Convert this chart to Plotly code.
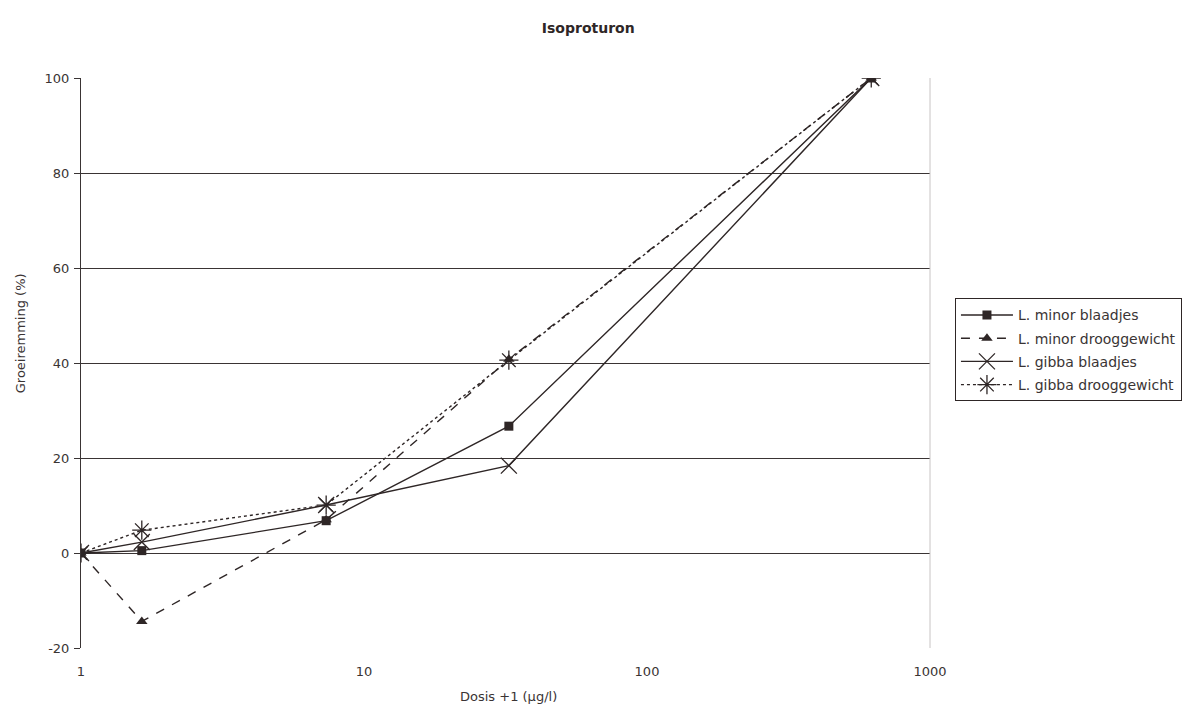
import plotly.graph_objects as go

# Dose + 1 (µg/l) on a log scale
dose_plus_1 = [1, 1.64, 7.35, 32.5, 620]

minor_blaadjes = [0, 0.5, 6.8, 26.7, 100]
minor_drooggewicht = [0, -14.4, 7.0, 40.8, 100]
gibba_blaadjes = [0, 2.3, 10.1, 18.4, 100]
gibba_drooggewicht = [0, 4.8, 10.1, 40.6, 100]

series_names = [
    "L. minor blaadjes",
    "L. minor drooggewicht",
    "L. gibba blaadjes",
    "L. gibba drooggewicht",
]

x_tick_vals = [1, 10, 100, 1000]
x_tick_text = ["1", "10", "100", "1000"]
y_tick_vals = [-20, 0, 20, 40, 60, 80, 100]
y_tick_text = ["-20", "0", "20", "40", "60", "80", "100"]

ink = "#2e2626"
text_color = "#3a3434"
font_family = "DejaVu Sans, Verdana, sans-serif"

fig = go.Figure()

styles = [
    (minor_blaadjes, "solid", dict(symbol="square", size=9, color=ink)),
    (minor_drooggewicht, "dash", dict(symbol="triangle-up", size=10, color=ink)),
    (gibba_blaadjes, "solid",
     dict(symbol="x-thin-open", size=16, color=ink, line=dict(color=ink, width=1.3))),
    (gibba_drooggewicht, "dot",
     dict(symbol="asterisk-open", size=16, color=ink, line=dict(color=ink, width=1.3))),
]

for i, (name, (values, dash, marker)) in enumerate(zip(series_names, styles)):
    fig.add_trace(go.Scatter(
        x=dose_plus_1,
        y=values,
        name=name,
        legendgroup=f"g{i}",
        mode="lines+markers",
        line=dict(color=ink, width=1.4, dash=dash),
        marker=marker,
    ))

# faint right-hand frame of the plot area
fig.add_shape(type="line", xref="paper", yref="paper", x0=1, x1=1, y0=0, y1=1,
              line=dict(color="#c8c4c4", width=1))

# axis titles
fig.add_annotation(
    text="Groeiremming (%)", textangle=-90,
    xref="paper", yref="paper", x=-0.0713, y=0.553,
    xanchor="center", yanchor="middle", showarrow=False,
    font=dict(size=13, color=text_color),
)
fig.add_annotation(
    text="Dosis +1 (µg/l)",
    xref="paper", yref="paper", x=0.503, y=-0.085,
    xanchor="center", yanchor="middle", showarrow=False,
    font=dict(size=13, color=text_color),
)

fig.update_layout(
    width=1186,
    height=708,
    margin=dict(l=81, r=256, t=78, b=60, autoexpand=False),
    paper_bgcolor="white",
    plot_bgcolor="white",
    font=dict(family=font_family, size=13, color=text_color),
    title=dict(
        text="<b>Isoproturon</b>",
        x=0.496, xref="container", xanchor="center",
        y=0.96, yref="container", yanchor="middle",
        font=dict(size=14, color=ink),
    ),
    showlegend=True,
    legend=dict(
        x=1.0294, xanchor="left",
        y=0.523, yanchor="middle",
        bordercolor=ink, borderwidth=1,
        bgcolor="white",
        font=dict(size=14, color=text_color),
        tracegroupgap=2,
        itemwidth=52,
    ),
)

fig.update_xaxes(
    type="log",
    range=[0, 3],
    tickvals=x_tick_vals,
    ticktext=x_tick_text,
    showgrid=False,
    zeroline=False,
    showline=False,
    ticks="",
    ticklabelstandoff=14,
)

fig.update_yaxes(
    range=[-20, 100],
    tickvals=y_tick_vals,
    ticktext=y_tick_text,
    showgrid=True,
    gridcolor=text_color,
    gridwidth=1,
    zeroline=True,
    zerolinecolor=text_color,
    zerolinewidth=1,
    showline=True,
    linecolor=text_color,
    linewidth=1,
    ticks="outside",
    ticklen=6,
    tickcolor=text_color,
    ticklabelstandoff=2,
)

fig.write_html("out.html")
